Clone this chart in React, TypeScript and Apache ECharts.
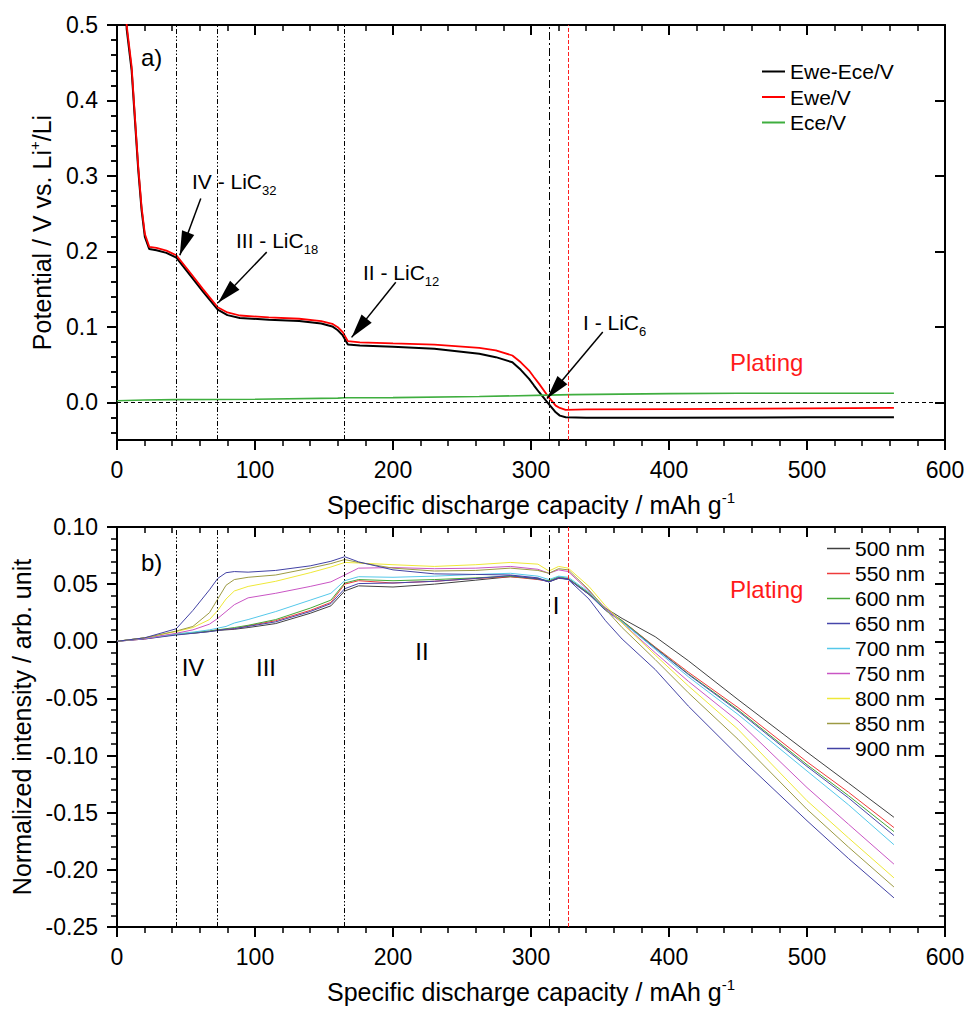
import React, { useEffect, useRef } from 'react';
import * as echarts from 'echarts';

// ---------- Panel a) : potential vs capacity ----------
const X_TOP = [3, 7, 10.6, 13, 15.4, 17.8, 20.2, 23.4, 28.6, 35.8, 43, 53.8, 62.3, 73, 80, 89, 110, 132, 148, 156, 160, 163.6, 167.3, 176, 200, 230, 262.5, 274.5, 286.5, 292.6, 298.6, 302.2, 305.9, 311.9, 317.9, 320.9, 325.1, 340, 400, 500, 563];
const EWE_ECE = [0.79, 0.495, 0.44, 0.374, 0.308, 0.255, 0.219, 0.203, 0.2015, 0.198, 0.1917, 0.1665, 0.1465, 0.1227, 0.1155, 0.1116, 0.1095, 0.1076, 0.1045, 0.1005, 0.0955, 0.0886, 0.0766, 0.0752, 0.0735, 0.071, 0.0643, 0.0598, 0.053, 0.043, 0.031, 0.0222, 0.0133, 0.0, -0.0133, -0.0177, -0.0199, -0.0205, -0.0205, -0.02, -0.02];
const EWE = [0.8, 0.5, 0.445, 0.378, 0.312, 0.259, 0.223, 0.206, 0.2045, 0.201, 0.1948, 0.17, 0.15, 0.126, 0.119, 0.115, 0.1125, 0.1107, 0.1075, 0.104, 0.0995, 0.093, 0.081, 0.0795, 0.078, 0.0765, 0.0722, 0.0687, 0.062, 0.053, 0.042, 0.0332, 0.0244, 0.0089, -0.0044, -0.0075, -0.0101, -0.0095, -0.009, -0.008, -0.0075];
const ECE_X = [0, 20, 43, 100, 160, 165, 200, 262.5, 312, 330, 400, 450, 563];
const ECE = [0.002, 0.003, 0.0035, 0.004, 0.0055, 0.006, 0.0062, 0.0076, 0.0095, 0.0102, 0.0115, 0.012, 0.012];
const TOP_NAMES = ['Ewe-Ece/V', 'Ewe/V', 'Ece/V'];
const TOP_COLORS = ['#000000', '#ff0000', '#3fae3f'];

// ---------- Panel b) : normalized intensity ----------
const X_BOT = [0, 20, 43, 55, 67, 73, 79, 85, 95, 115, 140, 155, 165, 175, 200, 230, 260, 285, 305, 313, 320, 327, 342, 354, 366, 390, 414, 450, 500, 530, 563];
const NM500 = [0, 0.003, 0.006, 0.007, 0.0085, 0.0095, 0.01, 0.0105, 0.012, 0.0155, 0.0245, 0.031, 0.044, 0.0485, 0.0475, 0.05, 0.0535, 0.0565, 0.055, 0.052, 0.055, 0.0545, 0.041, 0.029, 0.02, 0.004, -0.017, -0.051, -0.097, -0.124, -0.154];
const NM550 = [0, 0.002, 0.006, 0.0075, 0.009, 0.01, 0.0105, 0.011, 0.0135, 0.018, 0.027, 0.034, 0.05, 0.053, 0.051, 0.0525, 0.055, 0.0565, 0.054, 0.0525, 0.0555, 0.0545, 0.042, 0.028, 0.018, -0.005, -0.027, -0.058, -0.1055, -0.132, -0.163];
const NM600 = [0, 0.0025, 0.006, 0.0075, 0.009, 0.01, 0.011, 0.012, 0.014, 0.019, 0.029, 0.036, 0.051, 0.054, 0.053, 0.054, 0.0555, 0.057, 0.0545, 0.053, 0.0565, 0.055, 0.042, 0.028, 0.018, -0.0055, -0.0285, -0.06, -0.108, -0.135, -0.1665];
const NM650 = [0, 0.002, 0.0055, 0.007, 0.0085, 0.0095, 0.0105, 0.011, 0.013, 0.017, 0.026, 0.033, 0.046, 0.0505, 0.051, 0.0525, 0.055, 0.0575, 0.0545, 0.052, 0.0555, 0.0545, 0.041, 0.027, 0.017, -0.006, -0.029, -0.061, -0.1095, -0.137, -0.17];
const NM700 = [0, 0.0025, 0.0065, 0.008, 0.01, 0.0115, 0.013, 0.016, 0.019, 0.026, 0.036, 0.042, 0.053, 0.0565, 0.056, 0.057, 0.0585, 0.0595, 0.057, 0.054, 0.057, 0.056, 0.043, 0.028, 0.017, -0.007, -0.031, -0.064, -0.1135, -0.143, -0.178];
const NM750 = [0, 0.0025, 0.007, 0.01, 0.015, 0.02, 0.026, 0.032, 0.038, 0.042, 0.048, 0.052, 0.058, 0.064, 0.0645, 0.0635, 0.064, 0.0655, 0.063, 0.0595, 0.0625, 0.061, 0.044, 0.029, 0.016, -0.01, -0.035, -0.0698, -0.128, -0.16, -0.195];
const NM800 = [0, 0.003, 0.0085, 0.012, 0.019, 0.027, 0.037, 0.044, 0.048, 0.0525, 0.06, 0.065, 0.069, 0.0685, 0.067, 0.0655, 0.067, 0.069, 0.0675, 0.0615, 0.0655, 0.064, 0.048, 0.031, 0.016, -0.012, -0.039, -0.077, -0.1395, -0.172, -0.207];
const NM850 = [0, 0.003, 0.009, 0.013, 0.025, 0.037, 0.049, 0.054, 0.056, 0.058, 0.064, 0.068, 0.0715, 0.069, 0.064, 0.0615, 0.062, 0.064, 0.062, 0.0595, 0.0635, 0.0625, 0.045, 0.028, 0.012, -0.016, -0.045, -0.0857, -0.147, -0.18, -0.215];
const NM900 = [0, 0.003, 0.011, 0.027, 0.045, 0.055, 0.06, 0.061, 0.0605, 0.062, 0.066, 0.07, 0.074, 0.0695, 0.0625, 0.059, 0.0585, 0.058, 0.0555, 0.052, 0.0555, 0.054, 0.037, 0.018, 0.002, -0.0247, -0.0567, -0.1, -0.157, -0.19, -0.2245];
const WAVELENGTHS = ['500 nm', '550 nm', '600 nm', '650 nm', '700 nm', '750 nm', '800 nm', '850 nm', '900 nm'];
const BOT_VALUES = [NM500, NM550, NM600, NM650, NM700, NM750, NM800, NM850, NM900];
const BOT_COLORS = ['#404040', '#ee3b3b', '#47a838', '#4646aa', '#55c8ea', '#c955c4', '#eee838', '#9c9a44', '#4242a4'];

// ---------- axes / markers ----------
const X_MIN = 0, X_MAX = 600, X_STEP = 100;
const Y_TOP_MIN = -0.05, Y_TOP_MAX = 0.5;
const Y_TOP_MAJOR = [0, 0.1, 0.2, 0.3, 0.4, 0.5];
const Y_TOP_MINOR = [-0.04, -0.02, 0.02, 0.04, 0.06, 0.08, 0.12, 0.14, 0.16, 0.18, 0.22, 0.24, 0.26, 0.28, 0.32, 0.34, 0.36, 0.38, 0.42, 0.44, 0.46, 0.48];
const Y_BOT_MIN = -0.25, Y_BOT_MAX = 0.1, Y_BOT_STEP = 0.05;
const STAGE_LINES = [43, 73, 165, 313];
const PLATING_LINE = 327;
const ARROWS = [
  { from: [60.7, 0.27], to: [45.5, 0.195] },
  { from: [108.5, 0.199], to: [73.3, 0.132] },
  { from: [202, 0.159], to: [170, 0.086] },
  { from: [352, 0.093], to: [311.6, 0.005] },
];

const FONT = '"Liberation Sans", Arial, Helvetica, sans-serif';
const BLACK = '#000000';
const X_NAME = '{n|Specific discharge capacity / mAh g}{sup|-1}';

const nameRich = {
  n: { fontSize: 25, lineHeight: 30, fontFamily: FONT, color: BLACK },
  sup: { fontSize: 15, lineHeight: 15, verticalAlign: 'top', fontFamily: FONT, color: BLACK },
};

function pairs(xs: number[], ys: number[]) {
  return xs.map((x, i) => [x, ys[i]]);
}

const lineW = { color: BLACK, width: 2 };
const minorW = { color: BLACK, width: 1.5 };

function makeXAxes(grid: number) {
  const common = {
    type: 'value', gridIndex: grid, min: X_MIN, max: X_MAX, interval: X_STEP,
    splitLine: { show: false }, minorSplitLine: { show: false },
  };
  return [
    {
      ...common, position: 'bottom',
      axisLine: { show: true, onZero: false, lineStyle: lineW },
      axisTick: { show: true, inside: false, length: 10, lineStyle: lineW },
      minorTick: { show: true, splitNumber: 5, length: 6, lineStyle: minorW },
      axisLabel: { show: true, margin: 18, fontSize: 23, color: BLACK, fontFamily: FONT },
      name: X_NAME, nameLocation: 'middle', nameGap: 50,
      nameTextStyle: { fontSize: 25, fontFamily: FONT, color: BLACK, rich: nameRich },
    },
    {
      ...common, position: 'top',
      axisLine: { show: true, onZero: false, lineStyle: lineW },
      axisTick: { show: true, inside: true, length: 10, lineStyle: lineW },
      minorTick: { show: true, splitNumber: 5, length: 6, lineStyle: minorW },
      axisLabel: { show: false },
    },
  ];
}

function textEl(text: string, x: number, y: number, size: number, color = BLACK, align = 'left') {
  return {
    type: 'text', x, y, silent: true,
    style: {
      text, fill: color, fontSize: size, fontFamily: FONT,
      align, verticalAlign: 'middle', textAlign: align, textVerticalAlign: 'middle',
    },
  };
}

function subEl(main: string, sub: string, x: number, y: number) {
  return {
    type: 'text', x, y, silent: true,
    style: {
      text: `{m|${main}}{s|${sub}}`,
      fill: BLACK, fontFamily: FONT, fontSize: 21,
      align: 'left', verticalAlign: 'middle', textAlign: 'left', textVerticalAlign: 'middle',
      rich: {
        m: { fontSize: 21, lineHeight: 32, fontFamily: FONT, fill: BLACK, color: BLACK },
        s: { fontSize: 13, lineHeight: 13, verticalAlign: 'bottom', fontFamily: FONT, fill: BLACK, color: BLACK },
      },
    },
  };
}

function stageMarkers(withZero: boolean) {
  const data: any[] = [];
  if (withZero) data.push({ yAxis: 0, lineStyle: { type: [4, 3], color: BLACK, width: 1 } });
  STAGE_LINES.forEach((x, i) => {
    data.push({
      xAxis: x,
      lineStyle: { type: i === 3 ? [8, 3, 2, 3] : [5, 2, 1.5, 2, 1.5, 2], color: BLACK, width: 1 },
    });
  });
  data.push({ xAxis: PLATING_LINE, lineStyle: { type: [4, 2], color: '#ff2020', width: 1 } });
  return data;
}

export default function App() {
  const ref = useRef<HTMLDivElement>(null);

  useEffect(() => {
    if (!ref.current) return;
    const chart = echarts.init(ref.current, null, { renderer: 'svg' });

    const arrowData = ARROWS.map((a) => [
      { coord: a.from, symbol: 'none', lineStyle: { type: 'solid', color: BLACK, width: 1.5 } },
      { coord: a.to, symbol: 'triangle', symbolSize: [13, 24], symbolOffset: [0, 12] },
    ]);

    const topSeries: any[] = [
      {
        type: 'line', name: TOP_NAMES[0], xAxisIndex: 0, yAxisIndex: 0,
        data: pairs(X_TOP, EWE_ECE), symbol: 'none', clip: true,
        lineStyle: { color: TOP_COLORS[0], width: 2 }, itemStyle: { color: TOP_COLORS[0] },
        markLine: {
          silent: true, symbol: ['none', 'none'], label: { show: false },
          data: [...stageMarkers(true), ...arrowData],
        },
      },
      {
        type: 'line', name: TOP_NAMES[1], xAxisIndex: 0, yAxisIndex: 0,
        data: pairs(X_TOP, EWE), symbol: 'none', clip: true,
        lineStyle: { color: TOP_COLORS[1], width: 1.8 }, itemStyle: { color: TOP_COLORS[1] },
      },
      {
        type: 'line', name: TOP_NAMES[2], xAxisIndex: 0, yAxisIndex: 0,
        data: pairs(ECE_X, ECE), symbol: 'none', clip: true,
        lineStyle: { color: TOP_COLORS[2], width: 1.6 }, itemStyle: { color: TOP_COLORS[2] },
      },
    ];

    const botSeries: any[] = WAVELENGTHS.map((name, i) => ({
      type: 'line', name, xAxisIndex: 2, yAxisIndex: 4,
      data: pairs(X_BOT, BOT_VALUES[i]), symbol: 'none', clip: true,
      lineStyle: { color: BOT_COLORS[i], width: 1 }, itemStyle: { color: BOT_COLORS[i] },
      ...(i === 0
        ? { markLine: { silent: true, symbol: ['none', 'none'], label: { show: false }, data: stageMarkers(false) } }
        : {}),
    }));

    const option: any = {
      animation: false,
      backgroundColor: '#ffffff',
      textStyle: { fontFamily: FONT },
      grid: [
        { left: 117, top: 25, width: 828, height: 415 },
        { left: 117, top: 527, width: 828, height: 400 },
      ],
      xAxis: [...makeXAxes(0), ...makeXAxes(1)],
      yAxis: [
        {
          type: 'value', gridIndex: 0, position: 'left', min: Y_TOP_MIN, max: Y_TOP_MAX,
          axisLine: { show: true, onZero: false, lineStyle: lineW },
          axisTick: { show: true, inside: false, length: 10, lineStyle: lineW, customValues: Y_TOP_MAJOR },
          axisLabel: {
            show: true, margin: 19, fontSize: 23, color: BLACK, fontFamily: FONT,
            customValues: Y_TOP_MAJOR, formatter: (v: number) => v.toFixed(1),
          },
          splitLine: { show: false },
          name: '{n|Potential / V vs. Li}{sup|+}{n|/Li}', nameLocation: 'middle', nameGap: 60,
          nameTextStyle: { fontSize: 25, fontFamily: FONT, color: BLACK, rich: nameRich },
        },
        {
          type: 'value', gridIndex: 0, position: 'left', min: Y_TOP_MIN, max: Y_TOP_MAX,
          axisLine: { show: false },
          axisTick: { show: true, inside: false, length: 6, lineStyle: minorW, customValues: Y_TOP_MINOR },
          axisLabel: { show: false }, splitLine: { show: false },
        },
        {
          type: 'value', gridIndex: 0, position: 'right', min: Y_TOP_MIN, max: Y_TOP_MAX,
          axisLine: { show: true, onZero: false, lineStyle: lineW },
          axisTick: { show: true, inside: true, length: 10, lineStyle: lineW, customValues: Y_TOP_MAJOR },
          axisLabel: { show: false }, splitLine: { show: false },
        },
        {
          type: 'value', gridIndex: 0, position: 'right', min: Y_TOP_MIN, max: Y_TOP_MAX,
          axisLine: { show: false },
          axisTick: { show: true, inside: true, length: 6, lineStyle: minorW, customValues: Y_TOP_MINOR },
          axisLabel: { show: false }, splitLine: { show: false },
        },
        {
          type: 'value', gridIndex: 1, position: 'left', min: Y_BOT_MIN, max: Y_BOT_MAX, interval: Y_BOT_STEP,
          axisLine: { show: true, onZero: false, lineStyle: lineW },
          axisTick: { show: true, inside: false, length: 10, lineStyle: lineW },
          minorTick: { show: true, splitNumber: 5, length: 6, lineStyle: minorW },
          axisLabel: {
            show: true, margin: 19, fontSize: 23, color: BLACK, fontFamily: FONT,
            formatter: (v: number) => v.toFixed(2),
          },
          splitLine: { show: false }, minorSplitLine: { show: false },
          name: 'Normalized intensity / arb. unit', nameLocation: 'middle', nameGap: 81,
          nameTextStyle: { fontSize: 25, fontFamily: FONT, color: BLACK },
        },
        {
          type: 'value', gridIndex: 1, position: 'right', min: Y_BOT_MIN, max: Y_BOT_MAX, interval: Y_BOT_STEP,
          axisLine: { show: true, onZero: false, lineStyle: lineW },
          axisTick: { show: true, inside: true, length: 10, lineStyle: lineW },
          minorTick: { show: true, splitNumber: 5, length: 6, lineStyle: minorW },
          axisLabel: { show: false }, splitLine: { show: false }, minorSplitLine: { show: false },
        },
      ],
      legend: [
        {
          data: TOP_NAMES, orient: 'vertical', left: 762, top: 61, padding: 0,
          itemWidth: 23, itemHeight: 2, icon: 'rect', itemGap: 4.5, selectedMode: false,
          textStyle: { fontSize: 21, lineHeight: 21, fontFamily: FONT, color: BLACK },
        },
        {
          data: WAVELENGTHS, orient: 'vertical', left: 827, top: 538, padding: 0,
          itemWidth: 23, itemHeight: 1.5, icon: 'rect', itemGap: 4, selectedMode: false,
          textStyle: { fontSize: 21, lineHeight: 21, fontFamily: FONT, color: BLACK },
        },
      ],
      graphic: [
        textEl('a)', 141, 57, 24),
        textEl('b)', 141, 562, 24),
        textEl('Plating', 730, 362, 24, '#ff1a1a'),
        textEl('Plating', 730, 589, 24, '#ff1a1a'),
        textEl('IV', 193, 667, 24, BLACK, 'center'),
        textEl('III', 266, 667, 24, BLACK, 'center'),
        textEl('II', 422, 651, 24, BLACK, 'center'),
        textEl('I', 556, 605, 24, BLACK, 'center'),
        subEl('IV - LiC', '32', 192, 181),
        subEl('III - LiC', '18', 236, 240),
        subEl('II - LiC', '12', 363, 272),
        subEl('I - LiC', '6', 583, 322),
      ],
      series: [...topSeries, ...botSeries],
    };

    chart.setOption(option);
    return () => chart.dispose();
  }, []);

  return (
    <div
      ref={ref}
      style={{ position: 'absolute', left: 0, top: 0, width: 968, height: 1020, background: '#fff' }}
    />
  );
}
